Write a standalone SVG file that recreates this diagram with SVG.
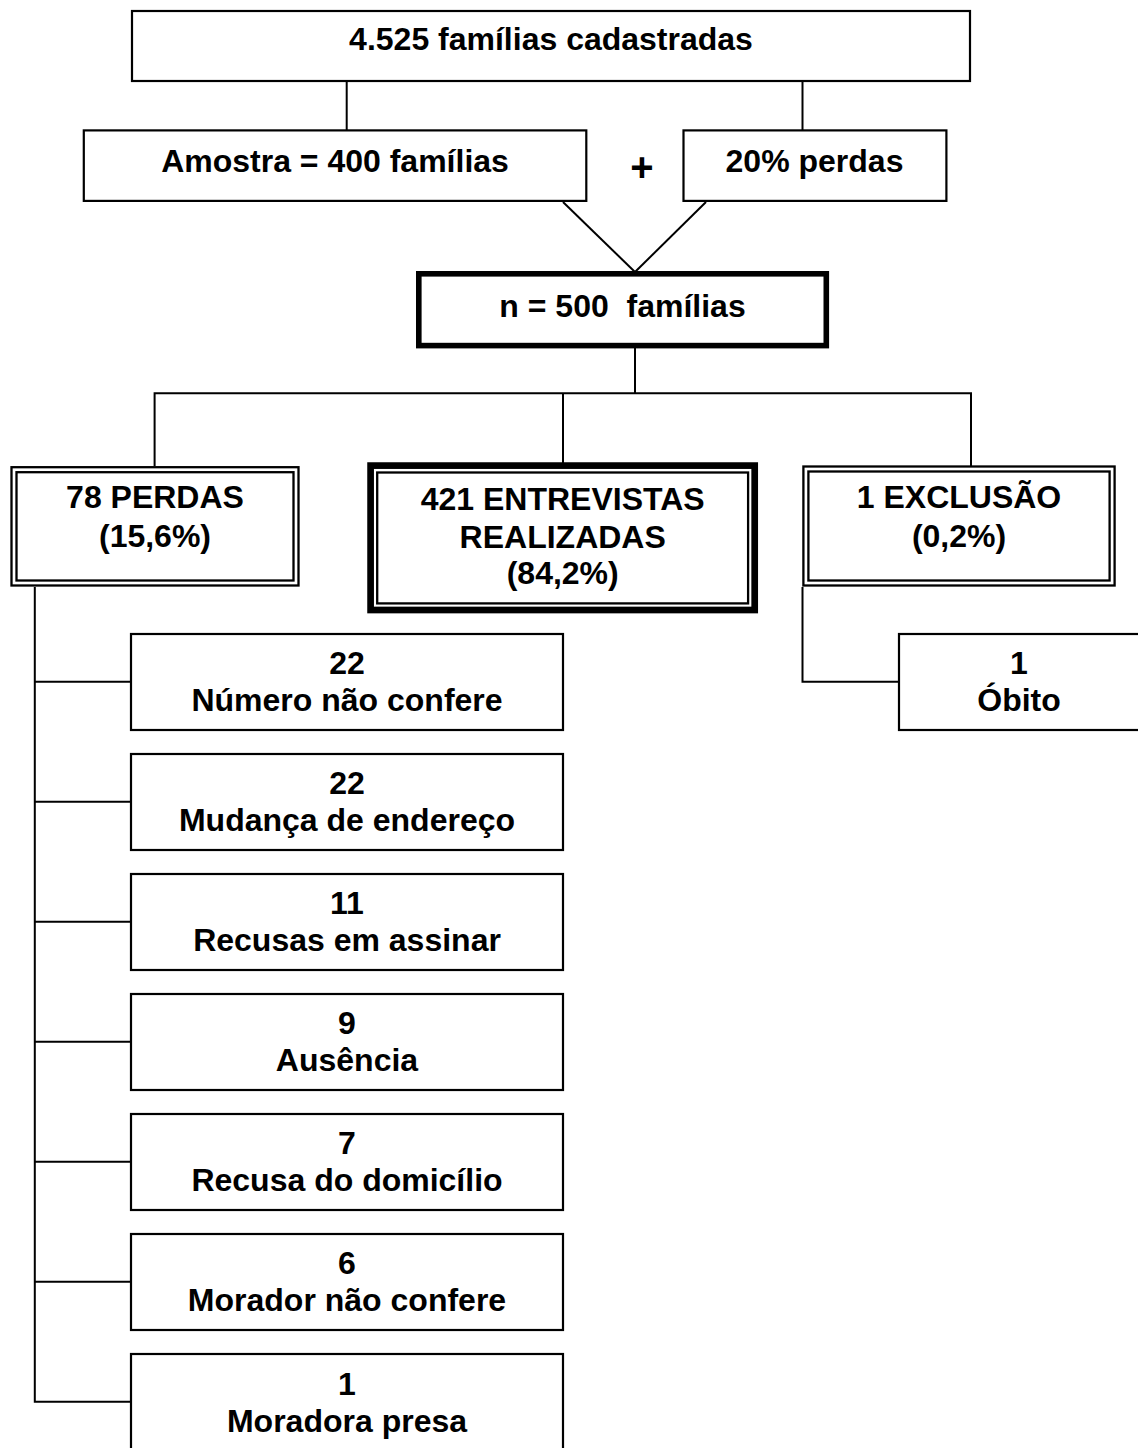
<svg xmlns="http://www.w3.org/2000/svg" width="1138" height="1448" viewBox="0 0 1138 1448">
<style>
  .bx { fill: #fff; stroke: #000; stroke-width: 2.2; }
  .dbl { fill: none; stroke: #000; stroke-width: 2.3; }
  .thick { fill: #fff; stroke: #000; stroke-width: 5.6; }
  .thicker { fill: #fff; stroke: #000; stroke-width: 6.7; }
  .ln { fill: none; stroke: #000; stroke-width: 2; }
  text { font-family: "Liberation Sans", Arial, sans-serif; font-weight: bold; font-size: 32px; fill: #000; text-anchor: middle; }
</style>
<rect width="1138" height="1448" fill="#fff"/>
<g id="connectors">
  <line class="ln" x1="346.7" y1="81" x2="346.7" y2="130"/>
  <line class="ln" x1="802.5" y1="81" x2="802.5" y2="130"/>
  <line class="ln" x1="563" y1="202" x2="635" y2="272"/>
  <line class="ln" x1="706" y1="202" x2="635" y2="272"/>
  <line class="ln" x1="635" y1="348" x2="635" y2="393.3"/>
  <polyline class="ln" points="154.6,466 154.6,393.3 971,393.3 971,466"/>
  <line class="ln" x1="563" y1="393.3" x2="563" y2="463"/>
  <polyline class="ln" points="34.8,587 34.8,1401.7 131,1401.7"/>
  <line class="ln" x1="34.8" y1="681.7" x2="131" y2="681.7"/>
  <line class="ln" x1="34.8" y1="801.7" x2="131" y2="801.7"/>
  <line class="ln" x1="34.8" y1="921.7" x2="131" y2="921.7"/>
  <line class="ln" x1="34.8" y1="1041.7" x2="131" y2="1041.7"/>
  <line class="ln" x1="34.8" y1="1161.7" x2="131" y2="1161.7"/>
  <line class="ln" x1="34.8" y1="1281.7" x2="131" y2="1281.7"/>
  <polyline class="ln" points="802.5,587 802.5,681.7 899,681.7"/>
</g>
<g id="n-cadastradas">
  <rect class="bx" x="132" y="11" width="838" height="70"/>
  <text x="551" y="50">4.525 famílias cadastradas</text>
</g>
<g id="n-amostra">
  <rect class="bx" x="83.8" y="130.4" width="502.5" height="70.5"/>
  <text x="335" y="171.7">Amostra = 400 famílias</text>
</g>
<text id="plus" x="642" y="181" style="font-size:40px">+</text>
<g id="n-perdas20">
  <rect class="bx" x="683.5" y="130.4" width="262.9" height="70.5"/>
  <text x="814.5" y="171.7">20% perdas</text>
</g>
<g id="n-500">
  <rect class="thick" x="418.8" y="273.8" width="407.5" height="71.8"/>
  <text x="622.5" y="316.7" xml:space="preserve">n = 500  famílias</text>
</g>
<g id="n-78perdas">
  <rect class="dbl" x="11.5" y="467.2" width="287" height="118.3" style="fill:#fff"/>
  <rect class="dbl" x="16.5" y="472.2" width="277" height="108.3"/>
  <text x="155" y="508.3">78 PERDAS</text>
  <text x="155" y="546.5">(15,6%)</text>
</g>
<g id="n-421">
  <rect class="thicker" x="370.6" y="465.6" width="384.1" height="144.4"/>
  <rect class="dbl" x="377.2" y="472.5" width="370.9" height="130.9"/>
  <text x="562.7" y="510">421 ENTREVISTAS</text>
  <text x="562.7" y="547.5">REALIZADAS</text>
  <text x="562.7" y="584">(84,2%)</text>
</g>
<g id="n-exclusao">
  <rect class="dbl" x="803.4" y="466.5" width="311.2" height="119" style="fill:#fff"/>
  <rect class="dbl" x="808.4" y="471.5" width="301.2" height="109"/>
  <text x="959" y="508.3">1 EXCLUSÃO</text>
  <text x="959" y="546.5">(0,2%)</text>
</g>
<g id="n-obito">
  <rect class="bx" x="899" y="634" width="245" height="96"/>
  <text x="1019" y="674">1</text>
  <text x="1019" y="711">Óbito</text>
</g>
<g id="n-numero">
  <rect class="bx" x="131" y="634" width="432" height="96"/>
  <text x="347" y="674">22</text>
  <text x="347" y="711">Número não confere</text>
</g>
<g id="n-mudanca">
  <rect class="bx" x="131" y="754" width="432" height="96"/>
  <text x="347" y="794">22</text>
  <text x="347" y="831">Mudança de endereço</text>
</g>
<g id="n-recusas">
  <rect class="bx" x="131" y="874" width="432" height="96"/>
  <text x="347" y="914">11</text>
  <text x="347" y="951">Recusas em assinar</text>
</g>
<g id="n-ausencia">
  <rect class="bx" x="131" y="994" width="432" height="96"/>
  <text x="347" y="1034">9</text>
  <text x="347" y="1071">Ausência</text>
</g>
<g id="n-recusa-dom">
  <rect class="bx" x="131" y="1114" width="432" height="96"/>
  <text x="347" y="1154">7</text>
  <text x="347" y="1191">Recusa do domicílio</text>
</g>
<g id="n-morador">
  <rect class="bx" x="131" y="1234" width="432" height="96"/>
  <text x="347" y="1274">6</text>
  <text x="347" y="1311">Morador não confere</text>
</g>
<g id="n-moradora">
  <rect class="bx" x="131" y="1354" width="432" height="100"/>
  <text x="347" y="1395">1</text>
  <text x="347" y="1432">Moradora presa</text>
</g>
</svg>
